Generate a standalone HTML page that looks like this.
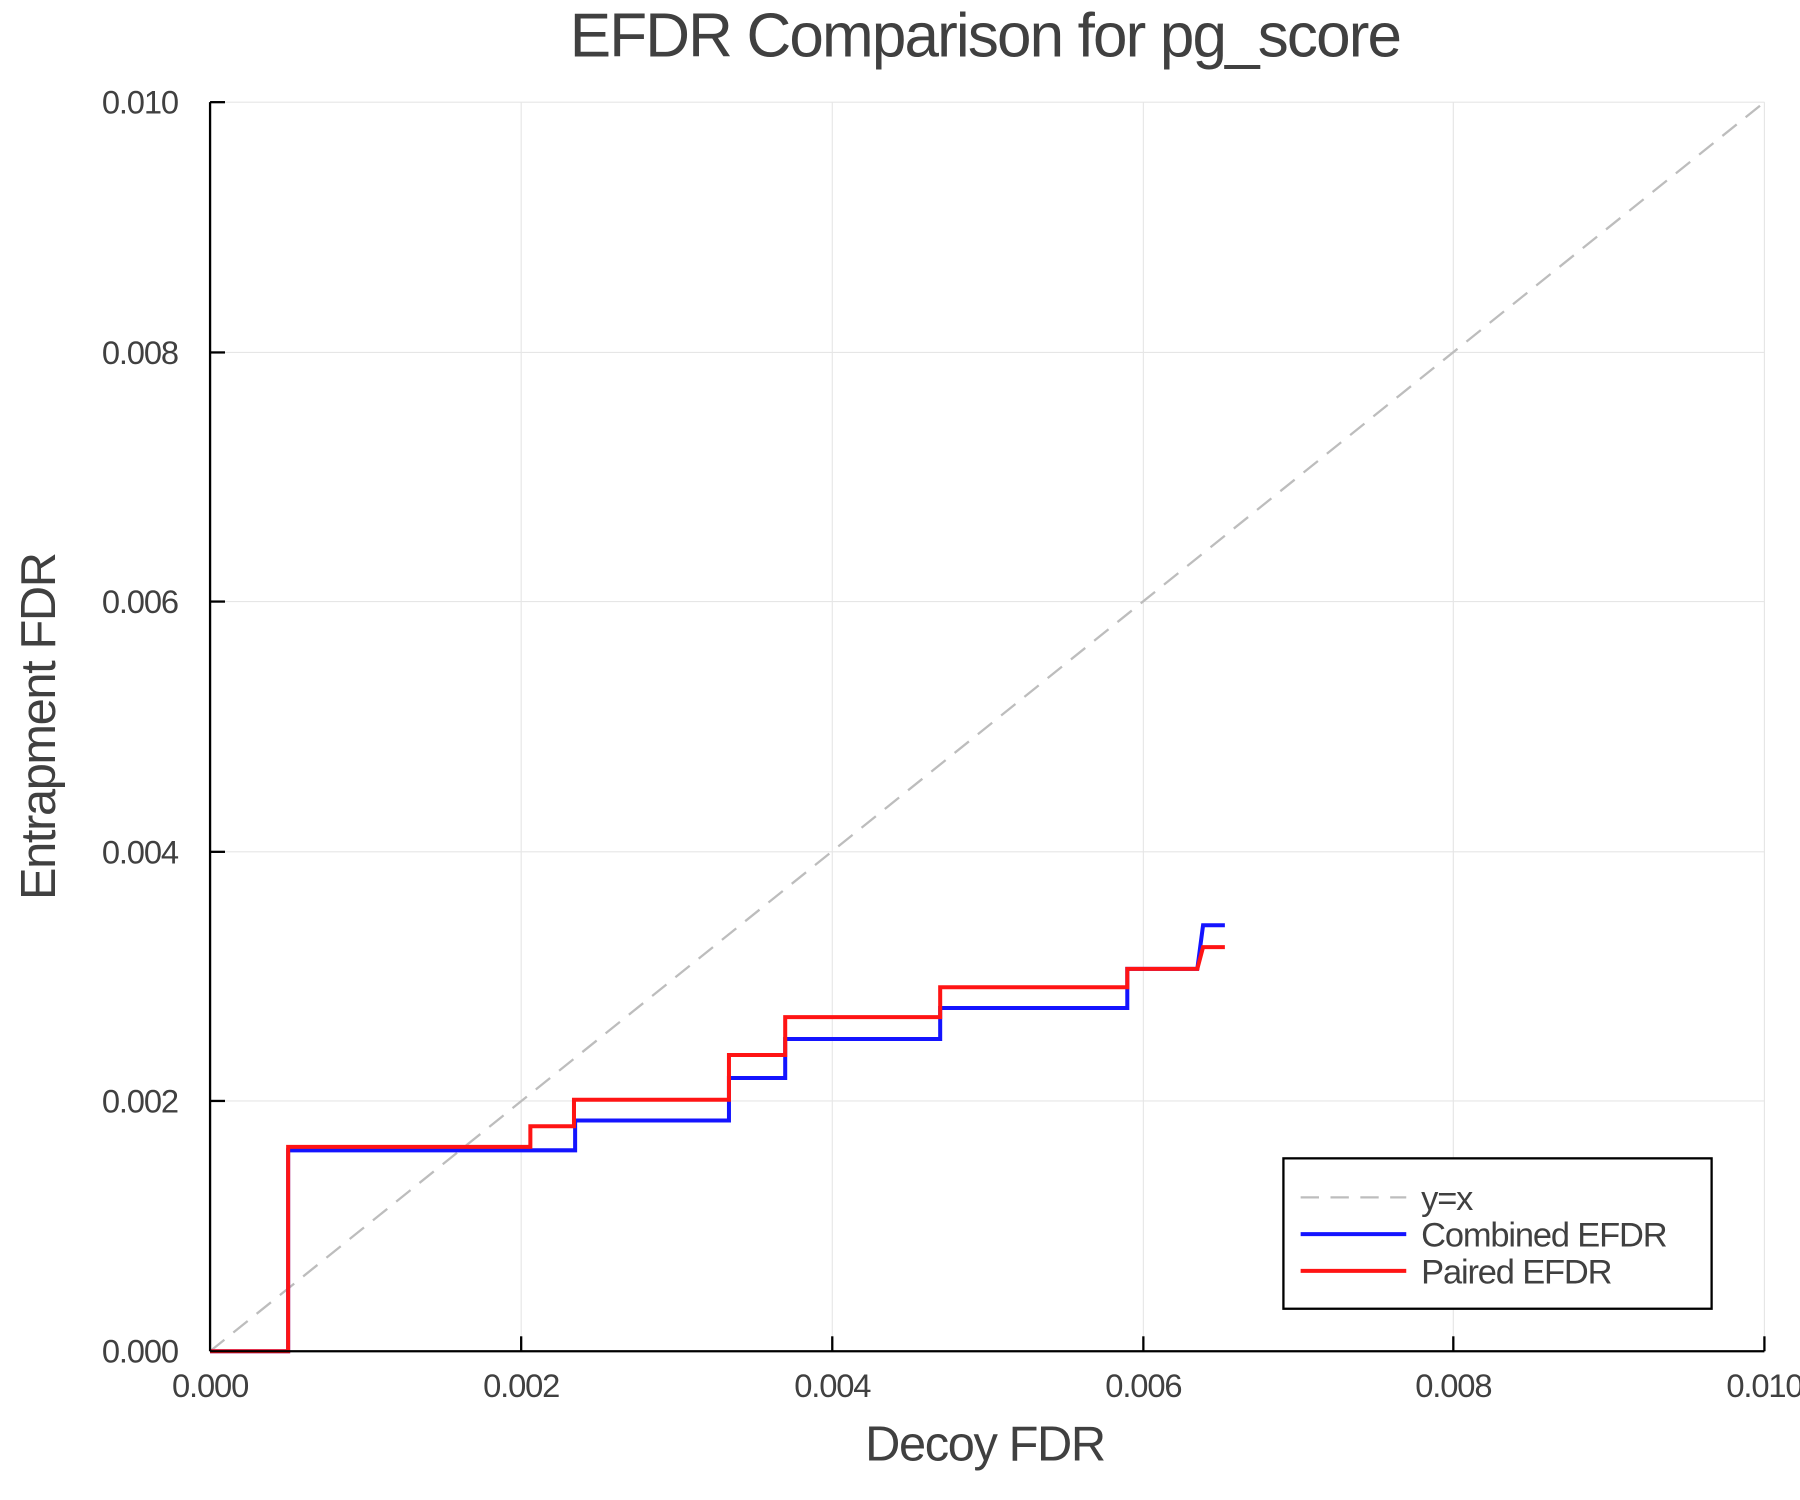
<!DOCTYPE html>
<html><head><style>html,body{margin:0;padding:0;background:#fff}svg{display:block}</style></head>
<body>
<svg width="1800" height="1500" viewBox="0 0 1568 1306.6" preserveAspectRatio="none" xmlns="http://www.w3.org/2000/svg" font-family="Liberation Sans, sans-serif" fill="#404040">
<rect width="1568" height="1306.6" fill="#fff"/>
<g stroke="#e6e6e6" stroke-width="1">
<line x1="183" y1="89" x2="183" y2="1177"/><line x1="454" y1="89" x2="454" y2="1177"/><line x1="725" y1="89" x2="725" y2="1177"/><line x1="996" y1="89" x2="996" y2="1177"/><line x1="1266" y1="89" x2="1266" y2="1177"/><line x1="1537" y1="89" x2="1537" y2="1177"/>
<line x1="183" y1="959" x2="1537" y2="959"/><line x1="183" y1="742" x2="1537" y2="742"/><line x1="183" y1="524" x2="1537" y2="524"/><line x1="183" y1="307" x2="1537" y2="307"/><line x1="183" y1="89" x2="1537" y2="89"/>
</g>
<line x1="183" y1="1177" x2="1537" y2="89" stroke="#bdbdbd" stroke-width="2" stroke-dasharray="16,10"/>
<polyline fill="none" stroke="#1414ff" stroke-width="3.5" points="183,1177 251,1177 251,1002 501,1002 501,976 635,976 635,939 684,939 684,905 819,905 819,878 982,878 982,844 1043,844 1048,806 1067,806"/>
<polyline fill="none" stroke="#ff1414" stroke-width="3.5" points="183,1177 251,1177 251,999 462,999 462,981 500,981 500,958 635,958 635,919 684,919 684,886 819,886 819,860 982,860 982,844 1043,844 1048,825 1067,825"/>
<g stroke="#000" stroke-width="2">
<line x1="183" y1="1177" x2="1537" y2="1177"/><line x1="183" y1="89" x2="183" y2="1177"/>
<line x1="454" y1="1177" x2="454" y2="1164"/><line x1="725" y1="1177" x2="725" y2="1164"/><line x1="996" y1="1177" x2="996" y2="1164"/><line x1="1266" y1="1177" x2="1266" y2="1164"/><line x1="1537" y1="1177" x2="1537" y2="1164"/>
<line x1="183" y1="959" x2="196" y2="959"/><line x1="183" y1="742" x2="196" y2="742"/><line x1="183" y1="524" x2="196" y2="524"/><line x1="183" y1="307" x2="196" y2="307"/><line x1="183" y1="89" x2="196" y2="89"/>
</g>
<g font-size="28.5" letter-spacing="-1" text-anchor="middle">
<text x="183" y="1217">0.000</text><text x="454" y="1217">0.002</text><text x="725" y="1217">0.004</text><text x="996" y="1217">0.006</text><text x="1266" y="1217">0.008</text><text x="1537" y="1217">0.010</text>
</g>
<g font-size="28.5" letter-spacing="-1" text-anchor="end">
<text x="155" y="1187">0.000</text><text x="155" y="969">0.002</text><text x="155" y="752">0.004</text><text x="155" y="534">0.006</text><text x="155" y="317">0.008</text><text x="155" y="99">0.010</text>
</g>
<text x="858" y="49" font-size="54" letter-spacing="-1.6" text-anchor="middle">EFDR Comparison for pg_score</text>
<text x="858" y="1272" font-size="42.5" letter-spacing="-1.2" text-anchor="middle">Decoy FDR</text>
<text transform="translate(48,633) rotate(-90)" font-size="42.5" letter-spacing="-1.2" text-anchor="middle">Entrapment FDR</text>
<rect x="1118" y="1009" width="373" height="131" fill="#fff" stroke="#000" stroke-width="2"/>
<line x1="1133" y1="1043" x2="1225" y2="1043" stroke="#bdbdbd" stroke-width="2" stroke-dasharray="16,10"/>
<line x1="1133" y1="1075" x2="1225" y2="1075" stroke="#1414ff" stroke-width="3.5"/>
<line x1="1133" y1="1107" x2="1225" y2="1107" stroke="#ff1414" stroke-width="3.5"/>
<g font-size="30" letter-spacing="-1"><text x="1238" y="1054">y=x</text><text x="1238" y="1086">Combined EFDR</text><text x="1238" y="1118">Paired EFDR</text></g>
</svg>
</body></html>
